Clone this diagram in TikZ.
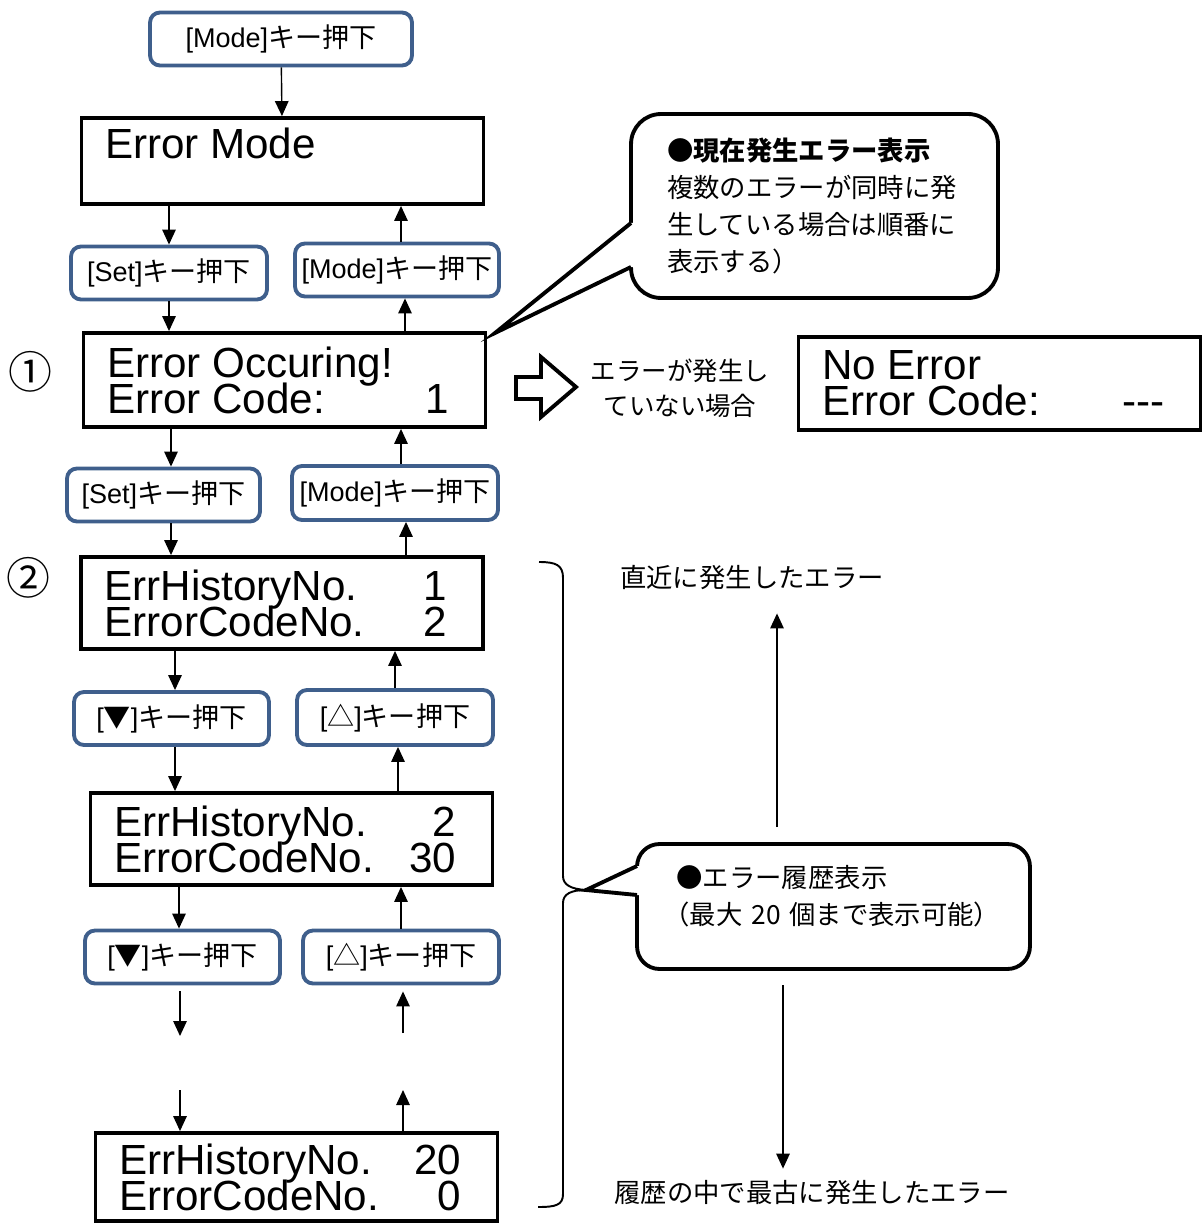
\documentclass[tikz,border=0pt]{standalone}
\usepackage{fontspec}
\setmainfont{Liberation Sans}
\newfontfamily\jpfont{Noto Sans CJK JP}
\usepackage{tikz}
\usetikzlibrary{arrows.meta}
\definecolor{keyblue}{HTML}{3F5F8C}
\lineskiplimit=-30pt
\newcommand\lcdrow[2]{\makebox[7.1cm]{#1\hfill#2\hspace{0.25cm}}}
\newcommand\keytext[1]{#1{\jpfont キー押下}}

\begin{document}
\begin{tikzpicture}[x=0.02cm, y=-0.02cm,
    key/.style={draw=keyblue, line width=2.2pt, rounded corners=0.2cm, minimum height=1.06cm,
                inner sep=1pt, font=\fontsize{15.4}{18}\selectfont},
    lcd/.style={draw, line width=2.2pt, minimum width=8.04cm, minimum height=1.84cm,
                inner xsep=0pt, align=left, font=\fontsize{24}{20.5}\selectfont},
    arr/.style={-{Triangle[length=0.3cm, width=0.27cm]}, line width=0.8pt},
    bubble/.style={draw, line width=2.2pt, fill=white, align=left,
                   font=\jpfont\fontsize{15}{21}\selectfont},
    bubline/.style={line width=2.2pt},
    note/.style={font=\jpfont\fontsize{15}{20}\selectfont},
    num/.style={font=\jpfont\fontsize{25}{28}\selectfont}
  ]
    \useasboundingbox (0,0) rectangle (1202,1223);

    % left column: screens and keys
    \node[key, minimum width=5.24cm] (kmode0) at (281,39) {\keytext{[Mode]}};
    \node[lcd, minimum height=1.72cm] (errmode) at (282.5,161) {\makebox[7.1cm][l]{Error Mode}\\\mbox{}};
    \node[key, minimum width=3.92cm] (kset1) at (169,273) {\keytext{[Set]}};
    \node[key, minimum width=4.08cm] (kmode1) at (397,270) {\keytext{[Mode]}};
    \node[lcd, minimum height=1.88cm] (occur) at (284.5,380) {\lcdrow{Error Occuring!}{}\\\lcdrow{Error Code:}{1}};
    \node[num] (numone) at (30,372) {①};
    \node[key, minimum width=3.86cm] (kset2) at (163.5,495) {\keytext{[Set]}};
    \node[key, minimum width=4.12cm, minimum height=1.08cm] (kmode2) at (395,493) {\keytext{[Mode]}};
    \node[lcd] (hist1) at (282,603) {\lcdrow{ErrHistoryNo.}{1}\\\lcdrow{ErrorCodeNo.}{2}};
    \node[num] (numtwo) at (28,578) {②};
    \node[key, minimum width=3.9cm] (kdown1) at (171.5,718.5) {\keytext{[{\jpfont ▼}]}};
    \node[key, minimum width=3.92cm, minimum height=1.1cm] (kup1) at (395,717.5) {\keytext{[{\jpfont △}]}};
    \node[lcd] (hist2) at (291.5,839) {\lcdrow{ErrHistoryNo.}{2}\\\lcdrow{ErrorCodeNo.}{30}};
    \node[key, minimum width=3.9cm] (kdown2) at (182.5,957) {\keytext{[{\jpfont ▼}]}};
    \node[key, minimum width=3.92cm] (kup2) at (401,957) {\keytext{[{\jpfont △}]}};
    \node[lcd, minimum height=1.76cm] (hist20) at (296.5,1177) {\lcdrow{ErrHistoryNo.}{20}\\\lcdrow{ErrorCodeNo.}{0}};

    \coordinate (dnA) at (180,1036);
    \coordinate (upA) at (403,1033);
    \coordinate (dnB) at (180,1090);
    \coordinate (upB) at (403,1090);

    \draw[arr] (kmode0) -- (errmode);
    \draw[arr] (errmode.south -| kset1) -- (kset1);
    \draw[arr] ([xshift=0.08cm]kmode1.north) -- ([xshift=0.08cm]kmode1.north |- errmode.south);
    \draw[arr] (kset1) -- (kset1 |- occur.north);
    \draw[arr] ([xshift=0.16cm]kmode1.south |- occur.north) -- ([xshift=0.16cm]kmode1.south);
    \draw[arr] ([xshift=0.15cm]kset2.north |- occur.south) -- ([xshift=0.15cm]kset2.north);
    \draw[arr] ([xshift=0.12cm]kmode2.north) -- ([xshift=0.12cm]kmode2.north |- occur.south);
    \draw[arr] ([xshift=0.15cm]kset2.south) -- ([xshift=0.15cm]kset2.south |- hist1.north);
    \draw[arr] ([xshift=0.22cm]kmode2.south |- hist1.north) -- ([xshift=0.22cm]kmode2.south);
    \draw[arr] ([xshift=0.07cm]kdown1.north |- hist1.south) -- ([xshift=0.07cm]kdown1.north);
    \draw[arr] (kup1.north) -- (kup1.north |- hist1.south);
    \draw[arr] ([xshift=0.07cm]kdown1.south) -- ([xshift=0.07cm]kdown1.south |- hist2.north);
    \draw[arr] ([xshift=0.06cm]kup1.south |- hist2.north) -- ([xshift=0.06cm]kup1.south);
    \draw[arr] ([xshift=-0.07cm]kdown2.north |- hist2.south) -- ([xshift=-0.07cm]kdown2.north);
    \draw[arr] (kup2.north) -- (kup2.north |- hist2.south);
    \draw[arr, shorten <=0.12cm] (dnA |- kdown2.south) -- (dnA);
    \draw[arr, shorten >=0.12cm] (upA) -- (upA |- kup2.south);
    \draw[arr] (dnB) -- (dnB |- hist20.north);
    \draw[arr] (upB |- hist20.north) -- (upB);

    % no error case
    \draw[line width=2.2pt] (516,377) -- (541,377) -- (541,357) -- (576,387) -- (541,417) -- (541,399) -- (516,399) -- cycle;
    \node[note, align=center, font=\jpfont\fontsize{14.5}{19.9}\selectfont] (noerrtxt) at (680,388) {エラーが発生し\\ていない場合};
    \node[lcd, minimum height=1.86cm] (noerr) at (999.5,383.5) {\lcdrow{No Error}{}\\\lcdrow{Error Code:}{-{}-{}-}};

    % current error callout
    \node[bubble, rounded corners=0.6cm, minimum width=7.34cm, minimum height=3.68cm, text width=5.9cm] (curbub) at (814.5,206)
      {{\bfseries ●現在発生エラー表示}\\複数のエラーが同時に発\\生している場合は順番に\\表示する）};
    \coordinate (curtip) at (495,333);
    \fill[white] (628,223) -- (curtip) -- (628,267) -- (641,267) -- (641,223) -- cycle;
    \draw[bubline] (631,223) -- (curtip) -- (631,267);

    % history brace and callout
    \coordinate (histtip) at (586,890);
    \draw[line width=1.1pt] (539,562) .. controls (556,562) and (563,565) .. (563,578) -- (563,876)
      .. controls (563,885) and (571,889) .. (histtip) .. controls (571,890) and (563,894) .. (563,903)
      -- (563,1194) .. controls (563,1205) and (556,1207) .. (538,1207);
    \node[bubble, rounded corners=0.45cm, minimum width=7.86cm, minimum height=2.5cm, text width=6.8cm] (histbub) at (833.5,906.5)
      {\hspace*{0.26cm}●エラー履歴表示\\（最大~20~個まで表示可能）\\[-8pt]\mbox{}};
    \fill[white] (634,866) -- (histtip) -- (634,895) -- (646,895) -- (646,866) -- cycle;
    \draw[bubline] (637,866) -- (histtip) -- (637,895);

    \node[note] (recent) at (752,578) {直近に発生したエラー};
    \node[note] (oldest) at (812,1193) {履歴の中で最古に発生したエラー};
    \coordinate (newfrom) at (777,827);
    \coordinate (oldfrom) at (783,985);
    \draw[arr, shorten >=0.34cm] (newfrom) -- (newfrom |- recent.south);
    \draw[arr, shorten >=0.12cm] (oldfrom) -- (oldfrom |- oldest.north);
\end{tikzpicture}
\end{document}
